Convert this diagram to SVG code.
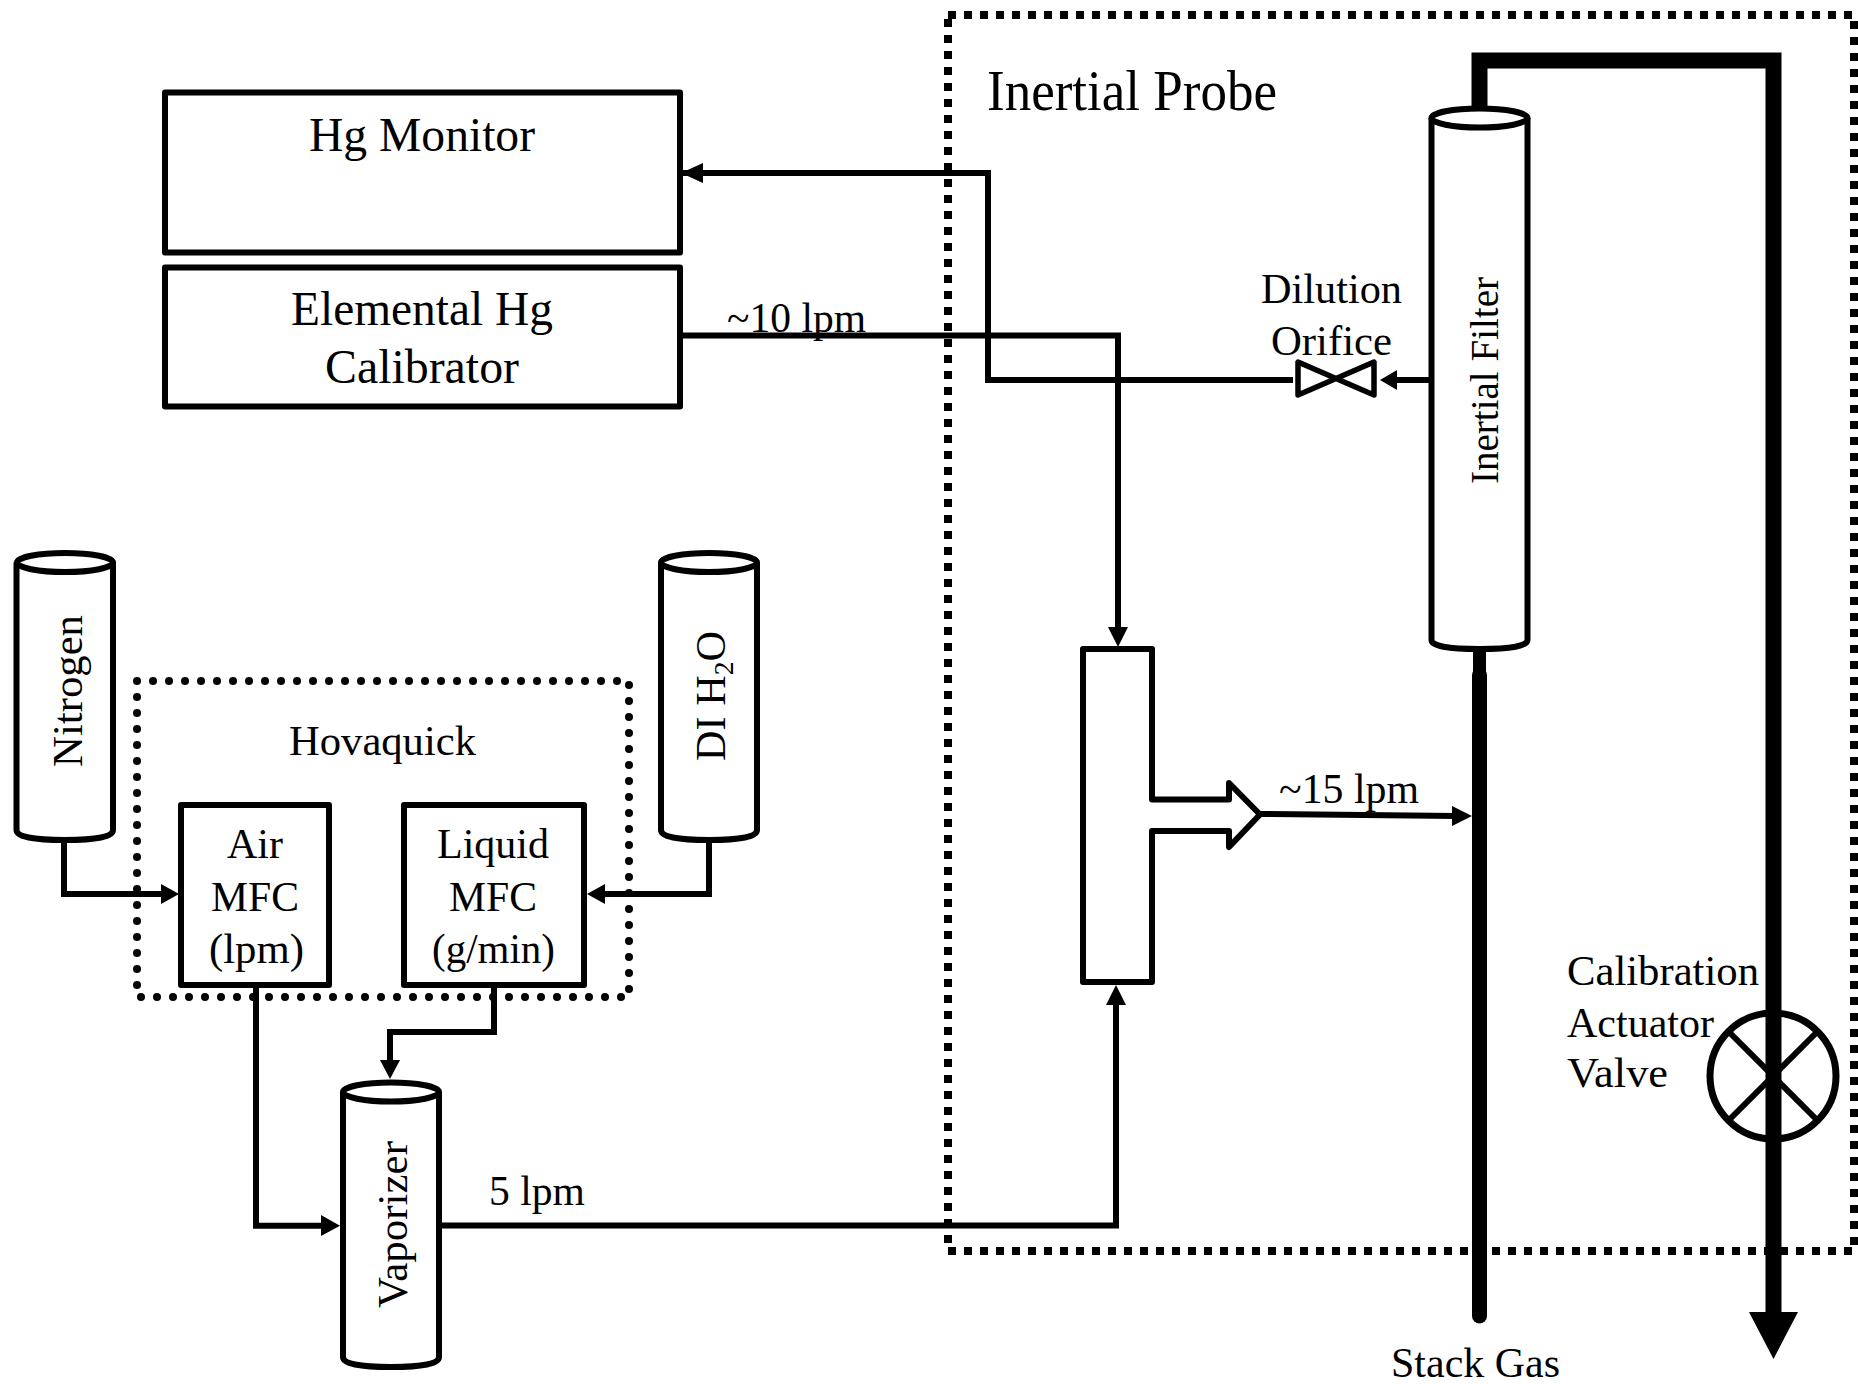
<svg xmlns="http://www.w3.org/2000/svg" width="1858" height="1384" viewBox="0 0 1858 1384">
<style>
text{font-family:"Liberation Serif","Times New Roman",serif;fill:#000;font-size:43px}
.s{fill:#fff;stroke:#000;stroke-width:6;stroke-linejoin:round}
.n{fill:none;stroke:#000;stroke-width:5.500;stroke-linejoin:round}
.c{fill:none;stroke:#000;stroke-width:6;stroke-linejoin:miter}
.h{fill:#000;stroke:none}
.t{fill:none;stroke:#000;stroke-linejoin:miter}
</style>
<rect width="1858" height="1384" fill="#fff"/>
<g id="probe-box"><path d="M948 15H1854V1251H948Z" fill="none" stroke="#000" stroke-width="8" stroke-dasharray="8 8"/>
<text x="987" y="110" textLength="290" lengthAdjust="spacingAndGlyphs" style="font-size:56px">Inertial Probe</text></g>
<g id="hovaquick-box"><path d="M137 681H629V997H137Z" fill="none" stroke="#000" stroke-width="8" stroke-linecap="round" stroke-dasharray="0 16"/>
<text x="289" y="755" textLength="187" lengthAdjust="spacingAndGlyphs">Hovaquick</text></g>
<g id="connectors">
<path class="t" stroke-width="16" d="M1479.500 112V60.500H1773.500V1315"/>
<path class="h" d="M1749 1312H1798L1773.500 1359Z"/>
<path class="t" stroke-width="13" stroke-linecap="round" d="M1479.500 648V680"/>
<path class="t" stroke-width="15" stroke-linecap="round" d="M1479.500 675V1316"/>
<path class="c" d="M680 173H988V380H1293"/>
<path class="h" d="M681 173L703 163V183Z"/>
<path class="c" d="M680 335.500H1118V630"/>
<path class="h" d="M1118 647L1108 627H1128Z"/>
<path class="c" d="M1430 380H1396"/>
<path class="h" d="M1380 380L1397 370V390Z"/>
<path class="c" d="M441 1225.500H1116V1000"/>
<path class="h" d="M1116 985L1106 1005H1126Z"/>
<path class="c" d="M1261 814L1456 816"/>
<path class="h" d="M1472 816L1452 806V826Z"/>
<path class="c" d="M64 840V894H165"/>
<path class="h" d="M179 894L161 884V904Z"/>
<path class="c" d="M709 840V894H602"/>
<path class="h" d="M587 894L605 884V904Z"/>
<path class="c" d="M256 985V1225.700H325"/>
<path class="h" d="M340 1225.700L321 1215V1236Z"/>
<path class="c" d="M494 985V1032H390V1064"/>
<path class="h" d="M390 1079L380 1060H400Z"/>
</g>
<g id="hg-monitor"><rect class="s" x="165" y="92.500" width="515" height="160"/><text x="309" y="151" style="font-size:48px" textLength="226" lengthAdjust="spacingAndGlyphs">Hg Monitor</text></g>
<g id="calibrator"><rect class="s" x="165" y="267.500" width="515" height="139"/><text x="291" y="325" style="font-size:48px" textLength="262" lengthAdjust="spacingAndGlyphs">Elemental Hg</text><text x="325" y="383" style="font-size:48px" textLength="194" lengthAdjust="spacingAndGlyphs">Calibrator</text></g>
<g id="flow-10"><text x="727" y="332" textLength="139" lengthAdjust="spacingAndGlyphs">~10 lpm</text></g>
<g id="dilution-orifice"><path class="n" d="M1298 362V395L1374 362V395Z"/><text x="1261" y="303" textLength="141" lengthAdjust="spacingAndGlyphs">Dilution</text><text x="1271" y="355" textLength="121" lengthAdjust="spacingAndGlyphs">Orifice</text></g>
<g id="inertial-filter"><path class="s" d="M1431.500 118V640Q1431.500 649 1479.500 649Q1527.500 649 1527.500 640V118"/><ellipse class="s" cx="1479.500" cy="118" rx="48" ry="9.500"/><text transform="translate(1498 484) rotate(-90)" textLength="207" lengthAdjust="spacingAndGlyphs" style="font-size:40px">Inertial Filter</text></g>
<g id="mixing-tee"><path class="s" d="M1083 649H1152V799.500H1229V783L1260 814.500L1229 847V831H1152V982H1083Z"/></g>
<g id="flow-15"><text x="1279" y="803" textLength="140" lengthAdjust="spacingAndGlyphs">~15 lpm</text></g>
<g id="calibration-valve"><circle cx="1773" cy="1076" r="63" fill="none" stroke="#000" stroke-width="7"/><path d="M1729 1032L1817 1120M1817 1032L1729 1120" fill="none" stroke="#000" stroke-width="6"/><text x="1567" y="985" textLength="192" lengthAdjust="spacingAndGlyphs">Calibration</text><text x="1567" y="1037" textLength="147" lengthAdjust="spacingAndGlyphs">Actuator</text><text x="1567" y="1087" textLength="101" lengthAdjust="spacingAndGlyphs">Valve</text></g>
<g id="stack-gas"><text x="1391" y="1377" textLength="169" lengthAdjust="spacingAndGlyphs">Stack Gas</text></g>
<g id="nitrogen"><path class="s" d="M16.500 562.500V830Q16.500 840 65 840Q113 840 113 830V562.500"/><ellipse class="s" cx="65" cy="562.500" rx="48" ry="9.500"/><text transform="translate(82 767) rotate(-90)" textLength="152" lengthAdjust="spacingAndGlyphs">Nitrogen</text></g>
<g id="di-water"><path class="s" d="M661 562.500V830Q661 840 709 840Q757 840 757 830V562.500"/><ellipse class="s" cx="709" cy="562.500" rx="48" ry="9.500"/><text transform="translate(725 761) rotate(-90)" textLength="130" lengthAdjust="spacingAndGlyphs">DI H<tspan dy="8" style="font-size:28px">2</tspan><tspan dy="-8">O</tspan></text></g>
<g id="air-mfc"><rect class="s" x="181" y="805" width="148" height="180"/><text x="227" y="858" textLength="56" lengthAdjust="spacingAndGlyphs">Air</text><text x="211" y="911" textLength="88" lengthAdjust="spacingAndGlyphs">MFC</text><text x="209" y="963" textLength="95" lengthAdjust="spacingAndGlyphs">(lpm)</text></g>
<g id="liquid-mfc"><rect class="s" x="404" y="805" width="180" height="180"/><text x="437" y="858" textLength="112" lengthAdjust="spacingAndGlyphs">Liquid</text><text x="449" y="911" textLength="88" lengthAdjust="spacingAndGlyphs">MFC</text><text x="432" y="963" textLength="123" lengthAdjust="spacingAndGlyphs">(g/min)</text></g>
<g id="vaporizer"><path class="s" d="M343 1092V1357Q343 1367 391 1367Q439 1367 439 1357V1092"/><ellipse class="s" cx="391" cy="1092" rx="48" ry="9.500"/><text transform="translate(407 1308) rotate(-90)" textLength="167" lengthAdjust="spacingAndGlyphs">Vaporizer</text></g>
<g id="flow-5"><text x="489" y="1205" textLength="96" lengthAdjust="spacingAndGlyphs">5 lpm</text></g>
</svg>
